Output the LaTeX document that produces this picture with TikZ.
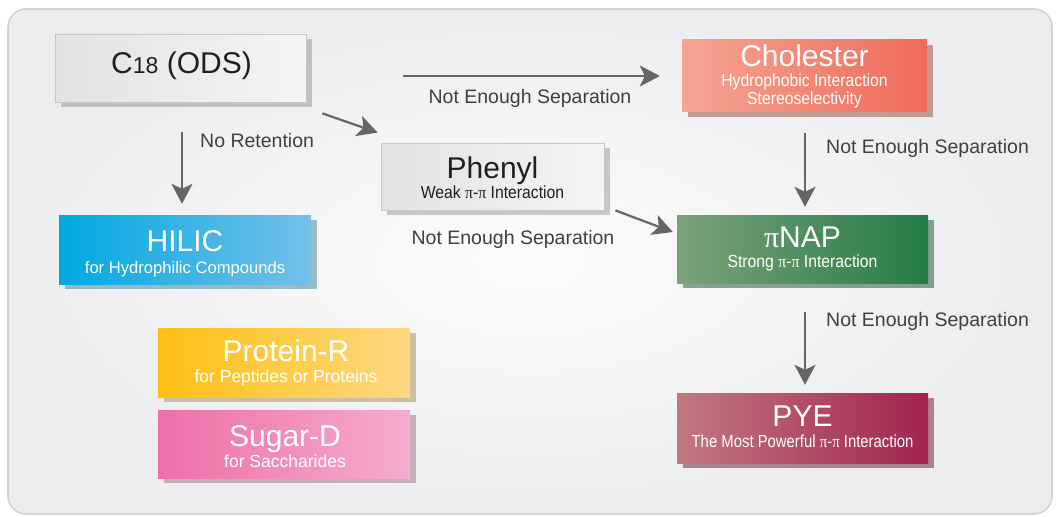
\documentclass[tikz,border=0pt]{standalone}
\usepackage{fontspec}
\usepackage{graphicx}
\setmainfont{Liberation Sans}
\newfontfamily\pif{Liberation Serif}
\usetikzlibrary{arrows.meta,calc,shadows}
\newcommand\mypi{{\pif π}}
\definecolor{framebd}{HTML}{D2D3D5}
\definecolor{frameIn}{HTML}{FCFCFC}
\definecolor{frameOut}{HTML}{ECEDEF}
\definecolor{grayL}{HTML}{E1E2E4}
\definecolor{grayR}{HTML}{F5F5F6}
\definecolor{grayBd}{HTML}{C6C7C9}
\definecolor{arrowc}{HTML}{646567}
\definecolor{labelc}{HTML}{404041}
\definecolor{darktext}{HTML}{231F20}
\definecolor{hilicL}{HTML}{00A8E1}
\definecolor{hilicR}{HTML}{74C0E9}
\definecolor{cholL}{HTML}{F5A593}
\definecolor{cholR}{HTML}{EF6B5B}
\definecolor{napL}{HTML}{7BA27A}
\definecolor{napR}{HTML}{247D45}
\definecolor{pyeL}{HTML}{C2787F}
\definecolor{pyeR}{HTML}{A2244F}
\definecolor{protL}{HTML}{FDC012}
\definecolor{protR}{HTML}{FDD882}
\definecolor{sugL}{HTML}{EE6FA7}
\definecolor{sugR}{HTML}{F5ACD0}
\begin{document}
\begin{tikzpicture}[x=1pt,y=-1pt,
  graybox/.style={rectangle, inner sep=0pt, left color=grayL, right color=grayR, draw=grayBd, line width=0.8pt,
    drop shadow={shadow xshift=6pt, shadow yshift=-5pt, fill=black!45, opacity=0.45}},
  colbox/.style 2 args={rectangle, inner sep=0pt, left color=#1, right color=#2, draw=none,
    drop shadow={shadow xshift=6pt, shadow yshift=-5pt, fill=#2!65!black, opacity=0.5}},
  ttl/.style={inner sep=0pt, font=\fontsize{30}{30}\selectfont, text=white},
  sub/.style={inner sep=0pt, font=\fontsize{17.5}{17.5}\selectfont, text=white},
  lbl/.style={inner sep=0pt, font=\fontsize{19.5}{19.5}\selectfont, text=labelc},
  arr/.style={draw=arrowc, line width=2.2pt, -{Stealth[length=20pt, width=21pt, inset=5pt]}}
]
\useasboundingbox (0,0) rectangle (1056,516);
\draw[draw=framebd, line width=1.6pt, rounded corners=18pt, inner color=frameIn, outer color=frameOut] (8,9) rectangle (1052,514);

% boxes
\node[graybox, minimum width=251pt, minimum height=68pt] (c18) at (180.5,68) {};
\node[colbox={hilicL}{hilicR}, minimum width=252pt, minimum height=69pt] (hilic) at (185,249.5) {};
\node[graybox, minimum width=223pt, minimum height=67pt] (phenyl) at (492.5,176.5) {};
\node[colbox={cholL}{cholR}, minimum width=245pt, minimum height=72pt] (chol) at (804.5,76) {};
\node[colbox={napL}{napR}, minimum width=251pt, minimum height=68pt] (pinap) at (802.5,249) {};
\node[colbox={pyeL}{pyeR}, minimum width=251pt, minimum height=70pt] (pye) at (802.5,428) {};
\node[colbox={protL}{protR}, minimum width=252pt, minimum height=69pt] (prot) at (284,362.5) {};
\node[colbox={sugL}{sugR}, minimum width=252pt, minimum height=68pt] (sugar) at (284,444) {};

% texts in boxes
\node[ttl, text=darktext, anchor=base] (c18T) at ($(c18.north)+(1,40)$) {C{\fontsize{23}{23}\selectfont 18} (ODS)};
\node[ttl, anchor=base] (hilicT) at ($(hilic.north)+(0,37)$) {HILIC};
\node[sub, anchor=base, font=\fontsize{16.6}{16.6}\selectfont] (hilicS) at ($(hilic.north)+(0,59)$) {for Hydrophilic Compounds};
\node[ttl, text=darktext, anchor=base] (phenylT) at ($(phenyl.north)+(0,36)$) {Phenyl};
\node[sub, text=darktext, anchor=base] (phenylS) at ($(phenyl.north)+(0,56)$) {\scalebox{0.9}[1]{Weak \mypi-\mypi\ Interaction}};
\node[ttl, anchor=base] (cholT) at ($(chol.north)+(0,27)$) {Cholester};
\node[sub, anchor=base] (cholS1) at ($(chol.north)+(0,47)$) {\scalebox{0.9}[1]{Hydrophobic Interaction}};
\node[sub, anchor=base] (cholS2) at ($(chol.north)+(0,65)$) {\scalebox{0.9}[1]{Stereoselectivity}};
\node[ttl, anchor=base] (pinapT) at ($(pinap.north)+(0,33)$) {\mypi NAP};
\node[sub, anchor=base] (pinapS) at ($(pinap.north)+(0,53)$) {\scalebox{0.9}[1]{Strong \mypi-\mypi\ Interaction}};
\node[ttl, anchor=base] (pyeT) at ($(pye.north)+(0,34)$) {PYE};
\node[sub, anchor=base] (pyeS) at ($(pye.north)+(0,55)$) {\scalebox{0.85}[1]{The Most Powerful \mypi-\mypi\ Interaction}};
\node[ttl, anchor=base] (protT) at ($(prot.north)+(2,34)$) {Protein-R};
\node[sub, anchor=base] (protS) at ($(prot.north)+(2,55)$) {for Peptides or Proteins};
\node[ttl, anchor=base] (sugarT) at ($(sugar.north)+(1,37)$) {Sugar-D};
\node[sub, anchor=base] (sugarS) at ($(sugar.north)+(1,58)$) {for Saccharides};

% connectors
\draw[arr] ($(c18.south)+(1.5,30)$) -- ($(hilic.north)+(-3,-11)$);
\draw[arr] ($(c18.south east)+(16,11)$) -- ($(phenyl.north west)+(-3,-10)$);
\draw[arr] ($(c18.east)+(97,8)$) -- ($(chol.west)+(-22,0)$);
\draw[arr] ($(phenyl.south east)+(11,0)$) -- ($(pinap.west)+(-4,-17)$);
\draw[arr] ($(chol.south)+(0.5,21)$) -- ($(pinap.north)+(2.5,-8)$);
\draw[arr] ($(pinap.south)+(2.5,29)$) -- ($(pye.north)+(2.5,-8)$);

% labels
\node[lbl, anchor=base west] (lNoRet) at (200,147) {No Retention};
\node[lbl, anchor=base] (lTop) at (530,103) {Not Enough Separation};
\node[lbl, anchor=base] (lMid) at (513,244) {Not Enough Separation};
\node[lbl, anchor=base west] (lR1) at (826,153) {Not Enough Separation};
\node[lbl, anchor=base west] (lR2) at (826,326) {Not Enough Separation};
\end{tikzpicture}
\end{document}
